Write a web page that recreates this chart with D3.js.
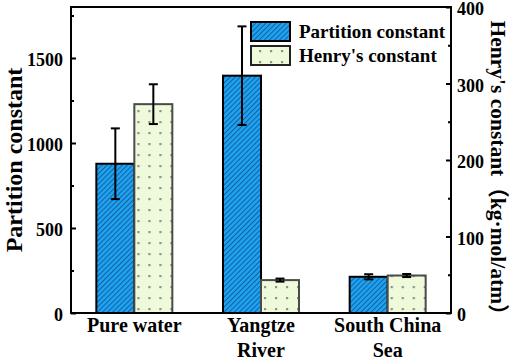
<!DOCTYPE html>
<html>
<head>
<meta charset="utf-8">
<script src="https://cdn.jsdelivr.net/npm/d3@7"></script>
<style>
  html, body { margin: 0; padding: 0; background: #fff; }
</style>
</head>
<body>
<svg id="chart" width="512" height="360"></svg>
<script>
// data
const categories = ["Pure water", "Yangtze River", "South China Sea"];
const categoryLines = [["Pure water"], ["Yangtze", "River"], ["South China", "Sea"]];
const partitionValues = [878, 1396, 213];
const partitionErrors = [208, 290, 15];
const henryValues = [273, 43, 49];
const henryErrors = [26, 2, 2];
const leftTicks = [0, 500, 1000, 1500];
const leftMinorTicks = [250, 750, 1250, 1750];
const rightTicks = [0, 100, 200, 300, 400];
const rightMinorTicks = [50, 150, 250, 350];

const FONT = "'Liberation Serif', 'Times New Roman', Times, 'DejaVu Serif', serif";

const margin = { top: 7, right: 61, bottom: 47, left: 71 };
const W = 512, H = 360;
const width = W - margin.left - margin.right;
const height = H - margin.top - margin.bottom;

const svg = d3.select("#chart")
  .style("font-family", FONT)
  .style("font-weight", "bold");
const defs = svg.append("defs");

// hatch for partition bars
const hatch = defs.append("pattern")
  .attr("id", "hatch")
  .attr("patternUnits", "userSpaceOnUse")
  .attr("width", 3.6).attr("height", 3.6)
  .attr("patternTransform", "rotate(45)");
hatch.append("rect").attr("width", 3.6).attr("height", 3.6).attr("fill", "#1ea2f2");
hatch.append("line")
  .attr("x1", 0.5).attr("y1", 0).attr("x2", 0.5).attr("y2", 3.6)
  .attr("stroke", "#13609c").attr("stroke-width", 1);

// dots for henry bars
const dots = defs.append("pattern")
  .attr("id", "dots")
  .attr("patternUnits", "userSpaceOnUse")
  .attr("width", 11).attr("height", 11)
  .attr("x", 4).attr("y", 0);
dots.append("rect").attr("width", 11).attr("height", 11).attr("fill", "#effadb");
dots.append("rect").attr("x", 4).attr("y", 4).attr("width", 2.2).attr("height", 2.2).attr("fill", "#8c9189");

const g = svg.append("g").attr("transform", `translate(${margin.left},${margin.top})`);

// scales
const x = d3.scaleBand().domain(categories).range([0, width]).paddingInner(0.4).paddingOuter(0.2);
const xSub = d3.scaleBand().domain(["p", "h"]).range([0, x.bandwidth()]);
const yLeft = d3.scaleLinear().domain([0, 1800]).range([height, 0]);
const yRight = d3.scaleLinear().domain([0, 400]).range([height, 0]);

// bars
const groups = g.selectAll(".grp")
  .data(categories)
  .enter().append("g")
  .attr("transform", d => `translate(${x(d)},0)`);

groups.append("rect")
  .attr("x", xSub("p"))
  .attr("y", (d, i) => yLeft(partitionValues[i]))
  .attr("width", xSub.bandwidth())
  .attr("height", (d, i) => height - yLeft(partitionValues[i]))
  .attr("fill", "url(#hatch)")
  .attr("stroke", "#000")
  .attr("stroke-width", 2);

groups.append("rect")
  .attr("x", xSub("h"))
  .attr("y", (d, i) => yRight(henryValues[i]))
  .attr("width", xSub.bandwidth())
  .attr("height", (d, i) => height - yRight(henryValues[i]))
  .attr("fill", "url(#dots)")
  .attr("stroke", "#4a4a4a")
  .attr("stroke-width", 2);

// error bars
function errorBar(sel, key, vals, errs, scale) {
  const cx = xSub(key) + xSub.bandwidth() / 2;
  const cap = 4.5;
  sel.append("line")
    .attr("x1", cx).attr("x2", cx)
    .attr("y1", (d, i) => scale(vals[i] + errs[i]))
    .attr("y2", (d, i) => scale(vals[i] - errs[i]))
    .attr("stroke", "#000").attr("stroke-width", 2);
  [1, -1].forEach(s => {
    sel.append("line")
      .attr("x1", cx - cap).attr("x2", cx + cap)
      .attr("y1", (d, i) => scale(vals[i] + s * errs[i]))
      .attr("y2", (d, i) => scale(vals[i] + s * errs[i]))
      .attr("stroke", "#000").attr("stroke-width", 2);
  });
}
errorBar(groups, "p", partitionValues, partitionErrors, yLeft);
errorBar(groups, "h", henryValues, henryErrors, yRight);

// axes
const fmt = d3.format("d");
const leftAxis = g.append("g")
  .call(d3.axisLeft(yLeft).tickValues(leftTicks).tickFormat(fmt).tickSize(-5).tickPadding(8));
const leftMinor = g.append("g")
  .call(d3.axisLeft(yLeft).tickValues(leftMinorTicks).tickSize(-3).tickFormat(""));
const rightAxis = g.append("g")
  .attr("transform", `translate(${width},0)`)
  .call(d3.axisRight(yRight).tickValues(rightTicks).tickFormat(fmt).tickSize(-5).tickPadding(6));
const rightMinor = g.append("g")
  .attr("transform", `translate(${width},0)`)
  .call(d3.axisRight(yRight).tickValues(rightMinorTicks).tickSize(-3).tickFormat(""));

[leftAxis, leftMinor, rightAxis, rightMinor].forEach(a => {
  a.attr("font-family", null).attr("font-size", null);
  a.select(".domain").remove();
  a.selectAll(".tick line").attr("stroke", "#000").attr("stroke-width", 2);
  a.selectAll(".tick text")
    .attr("dy", "0.42em")
    .style("font-family", FONT)
    .style("font-weight", "bold")
    .style("font-size", "18px");
});

// frame
g.append("rect")
  .attr("width", width).attr("height", height)
  .attr("fill", "none").attr("stroke", "#000").attr("stroke-width", 2);

// category labels
const catLabels = g.selectAll(".cat")
  .data(categories)
  .enter().append("text")
  .attr("text-anchor", "middle")
  .attr("x", d => x(d) + x.bandwidth() / 2)
  .attr("y", height + 19)
  .style("font-family", FONT)
  .style("font-size", "20px");
catLabels.selectAll("tspan")
  .data((d, i) => categoryLines[i])
  .enter().append("tspan")
  .attr("x", function () { return this.parentNode.getAttribute("x"); })
  .attr("dy", (d, i) => i === 0 ? 0 : 25)
  .text(d => d);

// axis titles
svg.append("text")
  .attr("transform", `translate(22,${margin.top + height / 2}) rotate(-90)`)
  .attr("text-anchor", "middle")
  .style("font-family", FONT)
  .style("font-size", "24px")
  .text("Partition constant");

svg.append("text")
  .attr("transform", `translate(491,173) rotate(90)`)
  .attr("text-anchor", "middle")
  .style("font-family", FONT + ", 'Noto Sans CJK SC'")
  .style("font-size", "21.5px")
  .text("Henry's constant（kg·mol/atm）");

// legend
const legendItems = [
  { label: "Partition constant", fill: "url(#hatch)", stroke: "#000" },
  { label: "Henry's constant", fill: "url(#dots)", stroke: "#222" }
];
const legend = svg.append("g").attr("transform", "translate(251,22)");
const li = legend.selectAll(".li")
  .data(legendItems)
  .enter().append("g")
  .attr("transform", (d, i) => `translate(0,${i * 24})`);
li.append("rect")
  .attr("width", 39).attr("height", 19)
  .attr("fill", d => d.fill).attr("stroke", d => d.stroke).attr("stroke-width", 2);
li.append("text")
  .attr("x", 48).attr("y", 16)
  .style("font-family", FONT)
  .style("font-size", "19px")
  .text(d => d.label);
</script>
</body>
</html>
